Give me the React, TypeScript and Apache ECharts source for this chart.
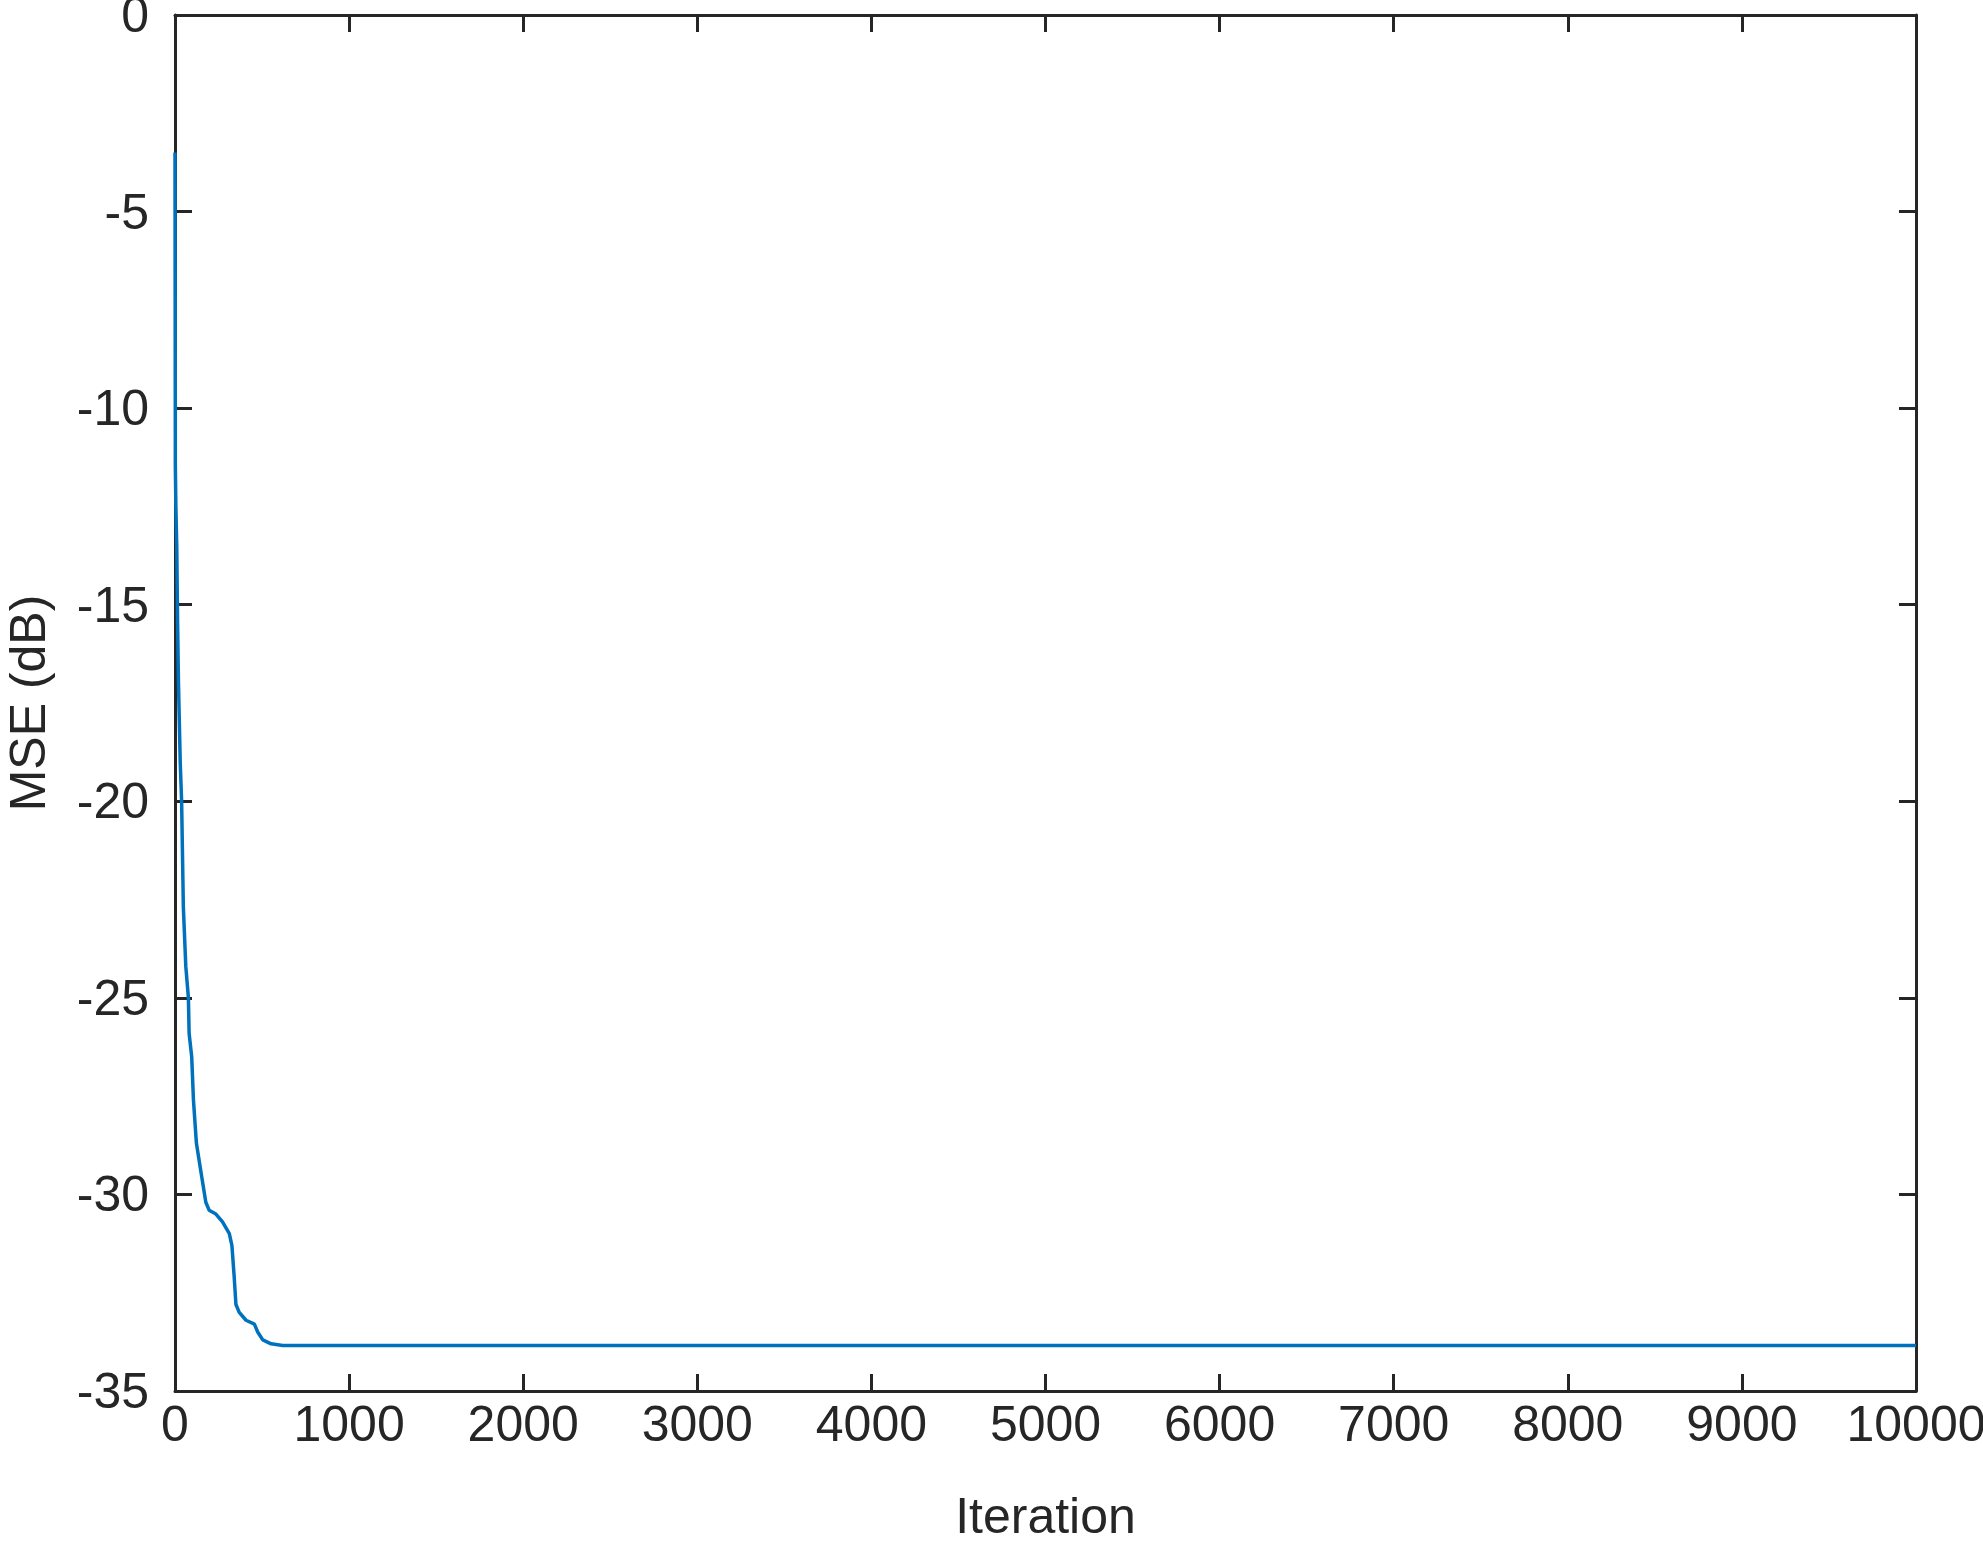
import React, { useEffect, useRef } from "react";
import * as echarts from "echarts";

const iterations = [0, 2, 5, 10, 15, 20, 30, 38, 48, 62, 77, 81, 96, 106, 123, 148, 177, 196, 235, 273, 312, 327, 340, 350, 369, 408, 456, 475, 504, 552, 619, 10000];
const mseDb = [-3.5, -11.5, -12.5, -13.5, -15.5, -17, -19, -20, -22.7, -24.2, -25, -25.9, -26.5, -27.6, -28.7, -29.4, -30.2, -30.4, -30.5, -30.7, -31, -31.3, -32.1, -32.8, -33, -33.2, -33.3, -33.5, -33.7, -33.8, -33.84, -33.84];

const xTicks = [0, 1000, 2000, 3000, 4000, 5000, 6000, 7000, 8000, 9000, 10000];
const yTicks = [0, -5, -10, -15, -20, -25, -30, -35];

export default function App() {
  const ref = useRef<HTMLDivElement>(null);
  useEffect(() => {
    if (!ref.current) return;
    const chart = echarts.init(ref.current, null, { renderer: "svg" });
    const axisColor = "#262626";
    const font = "'Liberation Sans', Arial, sans-serif";
    const common = {
      axisLine: { show: true, onZero: false, lineStyle: { color: axisColor, width: 3 } },
      axisTick: { show: true, inside: true, length: 17, lineStyle: { color: axisColor, width: 3 } },
      splitLine: { show: false },
    };
    chart.setOption({
      animation: false,
      backgroundColor: "#ffffff",
      grid: { left: 175, right: 67, top: 15, bottom: 154, containLabel: false, outerBoundsMode: "none" },
      xAxis: [
        {
          type: "value",
          min: xTicks[0],
          max: xTicks[xTicks.length - 1],
          interval: 1000,
          position: "bottom",
          name: "Iteration",
          nameLocation: "middle",
          nameGap: 100,
          nameTextStyle: { fontFamily: font, fontSize: 50, color: axisColor },
          axisLabel: {
            fontFamily: font,
            fontSize: 50,
            color: axisColor,
            margin: 8,
            showMaxLabel: true,
            showMinLabel: true,
            formatter: (v: number) => String(v),
          },
          ...common,
        },
        {
          type: "value",
          min: xTicks[0],
          max: xTicks[xTicks.length - 1],
          interval: 1000,
          position: "top",
          axisLabel: { show: false },
          ...common,
        },
      ],
      yAxis: [
        {
          type: "value",
          min: yTicks[yTicks.length - 1],
          max: yTicks[0],
          interval: 5,
          position: "left",
          name: "MSE (dB)",
          nameLocation: "middle",
          nameGap: 122,
          nameTextStyle: { fontFamily: font, fontSize: 50, color: axisColor },
          axisLabel: {
            fontFamily: font,
            fontSize: 50,
            color: axisColor,
            margin: 26,
            showMaxLabel: true,
            showMinLabel: true,
            formatter: (v: number) => String(v),
          },
          ...common,
        },
        {
          type: "value",
          min: yTicks[yTicks.length - 1],
          max: yTicks[0],
          interval: 5,
          position: "right",
          axisLabel: { show: false },
          ...common,
        },
      ],
      series: [
        {
          type: "line",
          data: iterations.map((x, i) => [x, mseDb[i]]),
          showSymbol: false,
          symbol: "none",
          lineStyle: { color: "#0072BD", width: 3.5 },
          xAxisIndex: 0,
          yAxisIndex: 0,
        },
      ],
    });
    return () => chart.dispose();
  }, []);
  return (
    <div
      ref={ref}
      style={{ position: "fixed", left: 0, top: 0, width: 1983, height: 1545, background: "#fff" }}
    />
  );
}
